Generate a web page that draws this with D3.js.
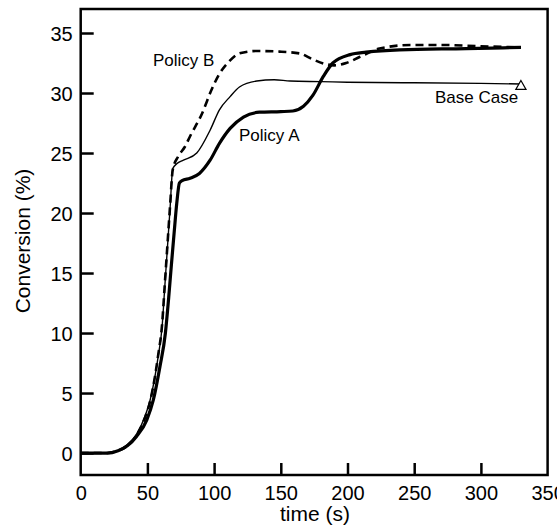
<!DOCTYPE html>
<html>
<head>
<meta charset="utf-8">
<script src="https://cdn.jsdelivr.net/npm/d3@7"></script>
<style>
  body { margin: 0; background: #fff; }
  text { font-family: "Liberation Sans", Arial, sans-serif; fill: #000; }
</style>
</head>
<body>
<script>
// series: time (s) and conversion (%)
const baseTime = [0, 20, 28, 35, 42, 48, 52, 56, 58, 61, 63, 65, 67, 69, 72, 77, 87, 97, 104, 112, 119, 132, 145, 157, 180, 200, 250, 300, 330]
const baseConv = [0, 0, 0.2, 0.7, 1.6, 3, 4.4, 6.6, 8, 10.5, 13.8, 17.1, 20.4, 23.7, 24.1, 24.4, 25.0, 26.9, 28.6, 29.7, 30.5, 31.0, 31.1, 31.0, 30.95, 30.9, 30.85, 30.8, 30.75]

const policyBTime = [0, 20, 28, 35, 42, 48, 52, 56, 58, 61, 63, 65, 67, 69, 73, 78, 82, 91, 98, 104, 111, 119, 132, 149, 164, 174, 184, 190, 199, 209, 224, 247, 272, 299, 330]
const policyBConv = [0, 0, 0.2, 0.6, 1.5, 2.9, 4.3, 6.6, 8.1, 10.7, 14, 17.3, 20.6, 23.6, 24.7, 25.5, 26.4, 28.3, 30.25, 31.6, 32.6, 33.3, 33.5, 33.45, 33.3, 32.8, 32.4, 32.3, 32.5, 33.0, 33.7, 34.0, 34.0, 33.9, 33.8]

const policyATime = [0, 20, 28, 35, 42, 49.5, 54.4, 59.4, 63.5, 66, 68, 70, 72, 74, 76, 82, 89, 97, 104, 112, 122, 134, 150, 159, 167, 174, 182, 189, 202, 214, 239, 289, 330]
const policyAConv = [0, 0, 0.2, 0.6, 1.4, 2.75, 4.4, 7.2, 10, 13, 15.7, 18.3, 20.8, 22.5, 22.7, 22.9, 23.3, 24.4, 25.8, 27.05, 28.0, 28.4, 28.45, 28.5, 28.9, 29.8, 31.4, 32.5, 33.2, 33.4, 33.6, 33.7, 33.8]

const xTicks = [0, 50, 100, 150, 200, 250, 300, 350]
const yTicks = [0, 5, 10, 15, 20, 25, 30, 35]

let width = 557, height = 525
let plot = {left: 80.7, right: 547.6, top: 9, bottom: 475}

let svg = d3.select("body").append("svg")
    .attr("width", width)
    .attr("height", height)

let x = d3.scaleLinear().domain([0, 350]).range([plot.left, plot.right])
let y = d3.scaleLinear().domain([-1.83, 37]).range([plot.bottom, plot.top])

// frame
svg.append("rect")
    .attr("x", plot.left)
    .attr("y", plot.top)
    .attr("width", plot.right - plot.left)
    .attr("height", plot.bottom - plot.top)
    .attr("fill", "none")
    .attr("stroke", "#000")
    .attr("stroke-width", 2.5)

// axes with inward ticks
let xAxis = svg.append("g")
    .attr("transform", "translate(0," + plot.bottom + ")")
    .call(d3.axisBottom(x).tickValues(xTicks).tickSize(-12).tickSizeOuter(0))
xAxis.select(".domain").remove()
xAxis.selectAll(".tick line").attr("stroke-width", 2.5)
    .attr("opacity", function (d) { return (d === 0 || d === 350) ? 0 : 1 })
xAxis.selectAll("text").attr("font-size", 20).attr("dy", 0).attr("y", 25)

let yAxis = svg.append("g")
    .attr("transform", "translate(" + plot.left + ",0)")
    .call(d3.axisLeft(y).tickValues(yTicks).tickSize(-13).tickSizeOuter(0))
yAxis.select(".domain").remove()
yAxis.selectAll(".tick line").attr("stroke-width", 2.5)
yAxis.selectAll("text").attr("font-size", 20).attr("x", -8).attr("dy", "0.36em")

svg.selectAll(".tick text").style("font-family", '"Liberation Sans", Arial, sans-serif')

// axis titles
svg.append("text")
    .attr("x", 315)
    .attr("y", 521)
    .attr("text-anchor", "middle")
    .attr("font-size", 21)
    .text("time (s)")

svg.append("text")
    .attr("transform", "translate(30,241) rotate(-90)")
    .attr("text-anchor", "middle")
    .attr("font-size", 21)
    .text("Conversion (%)")

// lines
let line = d3.line()
    .x(function (d) { return x(d[0]) })
    .y(function (d) { return y(d[1]) })
    .curve(d3.curveMonotoneX)

svg.append("path")
    .datum(d3.zip(baseTime, baseConv))
    .attr("d", line)
    .attr("fill", "none")
    .attr("stroke", "#000")
    .attr("stroke-width", 1.4)

svg.append("path")
    .datum(d3.zip(policyBTime, policyBConv))
    .attr("d", line)
    .attr("fill", "none")
    .attr("stroke", "#000")
    .attr("stroke-width", 2.6)
    .attr("stroke-dasharray", "8,5")

svg.append("path")
    .datum(d3.zip(policyATime, policyAConv))
    .attr("d", line)
    .attr("fill", "none")
    .attr("stroke", "#000")
    .attr("stroke-width", 3.2)

// base case end marker
svg.append("path")
    .attr("d", d3.symbol().type(d3.symbolTriangle).size(45))
    .attr("transform", "translate(" + x(330) + "," + y(30.55) + ")")
    .attr("fill", "#fff")
    .attr("stroke", "#000")
    .attr("stroke-width", 1.2)

// series labels
svg.append("text").attr("x", 153).attr("y", 66).attr("font-size", 17).text("Policy B")
svg.append("text").attr("x", 239).attr("y", 141).attr("font-size", 17).text("Policy A")
svg.append("text").attr("x", 435).attr("y", 103).attr("font-size", 17).text("Base Case")
</script>
</body>
</html>
